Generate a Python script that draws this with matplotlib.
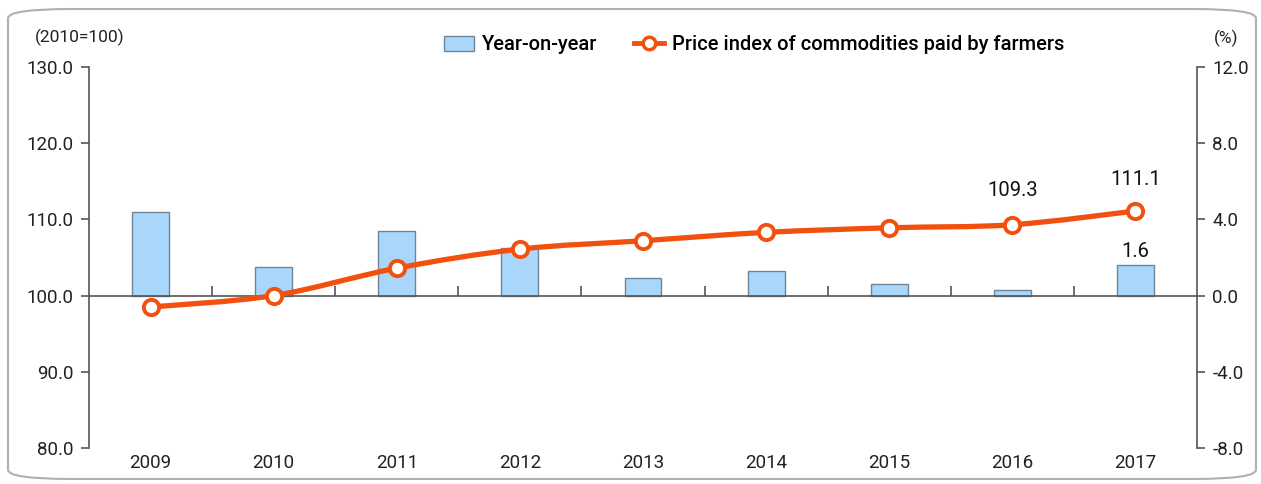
import numpy as np
import matplotlib
matplotlib.use("Agg")
import matplotlib.pyplot as plt
from matplotlib.path import Path
from matplotlib.patches import PathPatch, FancyBboxPatch, Patch
from matplotlib.lines import Line2D

plt.rcParams["font.family"] = ["Roboto", "DejaVu Sans"]

years = ["2009", "2010", "2011", "2012", "2013", "2014", "2015", "2016", "2017"]
price_index = [98.5, 100.0, 103.6, 106.1, 107.2, 108.3, 108.9, 109.3, 111.1]
yoy_change = [4.4, 1.5, 3.4, 2.5, 0.9, 1.3, 0.6, 0.3, 1.6]
left_ticks = [80, 90, 100, 110, 120, 130]
right_ticks = [-8, -4, 0, 4, 8, 12]

line_color = "#F2500F"
bar_color = "#A9D6FB"
bar_edge = "#6F8597"
axis_color = "#555555"
text_color = "#222222"

fig = plt.figure(figsize=(12.61, 4.84), dpi=100)

# rounded frame around the whole chart
frame = FancyBboxPatch((8 / 1261, 5 / 484), 1248 / 1261, 470 / 484,
                       boxstyle="round,pad=0,rounding_size=0.05",
                       transform=fig.transFigure, facecolor="none",
                       edgecolor="#B0B0B0", linewidth=1.5, mutation_aspect=484 / 1261)
fig.patches.append(frame)

ax = fig.add_axes([89 / 1261, 36 / 484, 1108 / 1261, 381 / 484])
ax2 = ax.twinx()
ax.set_zorder(ax2.get_zorder() + 1)
ax.patch.set_visible(False)

x = np.arange(len(years))

# bars: year-on-year change on the right axis
ax2.bar(x, yoy_change, width=0.3, color=bar_color, edgecolor=bar_edge, linewidth=1.0)
ax2.set_ylim(-8, 12)
ax2.set_yticks(right_ticks)
ax2.set_yticklabels([f"{v:.1f}" for v in right_ticks])
for name in ["top", "bottom", "left"]:
    ax2.spines[name].set_visible(False)
ax2.spines["right"].set_color(axis_color)
ax2.spines["right"].set_linewidth(1.2)
ax2.tick_params(axis="y", direction="out", length=6, width=1.2, color=axis_color,
                labelsize=13.5, labelcolor=text_color, pad=5)

# smooth curve through index points (Catmull-Rom as cubic Bezier)
pts = np.column_stack([x, price_index]).astype(float)
verts = [tuple(pts[0])]
codes = [Path.MOVETO]
for i in range(len(pts) - 1):
    p0 = pts[i - 1] if i > 0 else pts[i]
    p1 = pts[i]
    p2 = pts[i + 1]
    p3 = pts[i + 2] if i + 2 < len(pts) else pts[i + 1]
    c1 = p1 + (p2 - p0) / 6
    c2 = p2 - (p3 - p1) / 6
    verts += [tuple(c1), tuple(c2), tuple(p2)]
    codes += [Path.CURVE4] * 3
ax.add_patch(PathPatch(Path(verts, codes), facecolor="none", edgecolor=line_color,
                       linewidth=3.8, capstyle="round", zorder=3))
ax.plot(x, price_index, linestyle="none", marker="o", markersize=11,
        markerfacecolor="white", markeredgecolor=line_color, markeredgewidth=2.8, zorder=4)

ax.set_xlim(-0.5, len(years) - 0.5)
ax.set_ylim(80, 130)
ax.set_yticks(left_ticks)
ax.set_yticklabels([f"{v:.1f}" for v in left_ticks])
ax.spines["top"].set_visible(False)
ax.spines["right"].set_visible(False)
ax.spines["left"].set_color(axis_color)
ax.spines["left"].set_linewidth(1.2)
ax.spines["bottom"].set_position(("data", 100))
ax.spines["bottom"].set_color(axis_color)
ax.spines["bottom"].set_linewidth(1.2)
ax.tick_params(axis="y", direction="out", length=6, width=1.2, color=axis_color,
               labelsize=13.5, labelcolor=text_color, pad=5)
ax.set_xticks(x)
ax.set_xticklabels([])
ax.tick_params(axis="x", which="major", length=0)
ax.set_xticks(x[:-1] + 0.5, minor=True)
ax.tick_params(axis="x", which="minor", direction="in", length=7, width=1.2, color=axis_color)

for i, yr in enumerate(years):
    ax.text(i, -0.04, yr, transform=ax.get_xaxis_transform(), ha="center", va="center",
            fontsize=13.5, color=text_color)

# value labels
ax.annotate(f"{price_index[-2]:.1f}", (x[-2], price_index[-2]), xytext=(0, 25),
            textcoords="offset points", ha="center", va="center", fontsize=14.5, color="#111111")
ax.annotate(f"{price_index[-1]:.1f}", (x[-1], price_index[-1]), xytext=(0, 23),
            textcoords="offset points", ha="center", va="center", fontsize=14.5, color="#111111")
ax2.annotate(f"{yoy_change[-1]:.1f}", (x[-1], yoy_change[-1]), xytext=(0, 10),
             textcoords="offset points", ha="center", va="center", fontsize=14.5, color="#111111")

fig.text(35 / 1261, 1 - 37 / 484, "(2010=100)", ha="left", va="center", fontsize=12.5, color=text_color)
fig.text(1226 / 1261, 1 - 38 / 484, "(%)", ha="center", va="center", fontsize=12.5, color=text_color)

handles = [
    Patch(facecolor=bar_color, edgecolor=bar_edge, linewidth=1.0),
    Line2D([], [], color=line_color, linewidth=3.5, marker="o", markersize=9,
           markerfacecolor="white", markeredgecolor=line_color, markeredgewidth=2.5),
]
fig.legend(handles, ["Year-on-year", "Price index of commodities paid by farmers"],
           loc="center", bbox_to_anchor=(754 / 1261, 1 - 45 / 484), ncol=2, frameon=False,
           prop={"size": 14.5, "weight": "medium"}, labelcolor="#000000",
           handlelength=1.5, handletextpad=0.4, columnspacing=1.8)

fig.savefig("out.png", dpi=100)
